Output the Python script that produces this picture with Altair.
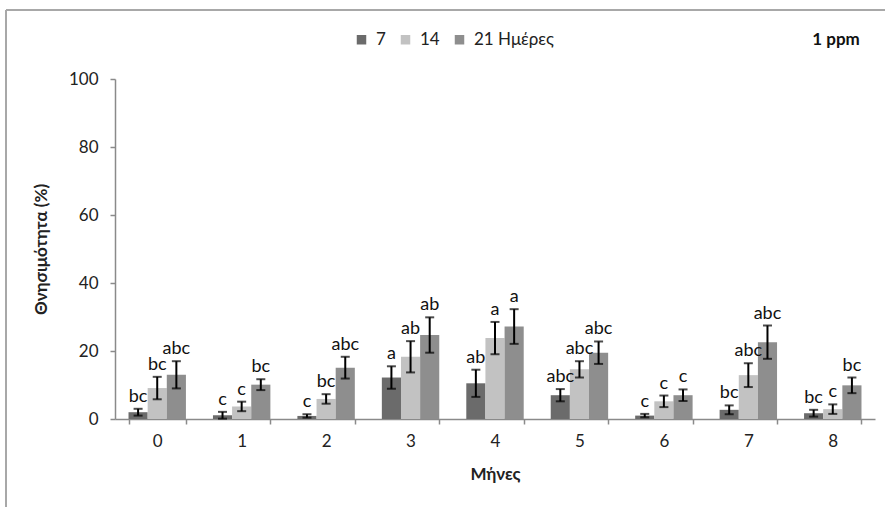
import altair as alt
import pandas as pd

months = ["0", "1", "2", "3", "4", "5", "6", "7", "8"]
series = ["7", "14", "21 Ημέρες"]

vals_7 = [2.0, 1.1, 0.9, 12.2, 10.5, 7.0, 1.0, 2.7, 1.7]
err_7 = [1.0, 1.0, 0.5, 3.3, 4.0, 1.8, 0.5, 1.3, 1.0]
vals_14 = [9.1, 3.7, 5.9, 18.3, 23.8, 14.6, 5.2, 12.9, 2.9]
err_14 = [3.3, 1.4, 1.4, 4.6, 4.75, 2.4, 1.7, 3.5, 1.4]
vals_21 = [13.0, 10.1, 15.1, 24.7, 27.2, 19.5, 7.0, 22.6, 9.9]
err_21 = [4.0, 1.6, 3.2, 5.2, 5.1, 3.3, 1.7, 4.9, 2.3]

let_7 = ["bc", "c", "c", "a", "ab", "abc", "c", "bc", "bc"]
let_14 = ["bc", "c", "bc", "ab", "a", "abc", "c", "abc", "c"]
let_21 = ["abc", "bc", "abc", "ab", "a", "abc", "c", "abc", "bc"]

colors = ["#6b6b6b", "#c2c2c2", "#8e8e8e"]

rows = []
for s, vals, errs, lets in [(series[0], vals_7, err_7, let_7),
                            (series[1], vals_14, err_14, let_14),
                            (series[2], vals_21, err_21, let_21)]:
    for m, v, e, l in zip(months, vals, errs, lets):
        rows.append({"month": m, "series": s, "value": v,
                     "lo": v - e, "hi": v + e, "letter": l})
df = pd.DataFrame(rows)

FONT = "Lato"

x_enc = alt.X("month:N", sort=months,
              scale=alt.Scale(paddingInner=0.32, paddingOuter=0.16),
              axis=alt.Axis(title="Μήνες", labelAngle=0, tickBand="extent",
                            domainColor="#8a8a8a", tickColor="#8a8a8a",
                            domainWidth=1.5, tickWidth=1.5, tickSize=5,
                            labelFontSize=17, labelFont=FONT, labelColor="#222222",
                            labelPadding=9,
                            titleFont=FONT, titleFontSize=17, titleFontWeight="bold",
                            titleColor="#222222", titleY=55, titleBaseline="middle"))
xo_enc = alt.XOffset("series:N", sort=series, scale=alt.Scale(domain=series, paddingInner=0))

base = alt.Chart(df)

bars = base.mark_bar().encode(
    x=x_enc,
    xOffset=xo_enc,
    y=alt.Y("value:Q", scale=alt.Scale(domain=[0, 100]),
            axis=alt.Axis(title="Θνησιμότητα (%)", values=[0, 20, 40, 60, 80, 100],
                          grid=False, domainColor="#8a8a8a", tickColor="#8a8a8a",
                          domainWidth=1.5, tickWidth=1.5, tickSize=5,
                          labelFontSize=17, labelFont=FONT, labelColor="#222222",
                          labelPadding=12,
                          titleFont=FONT, titleFontSize=17, titleFontWeight="bold",
                          titleColor="#222222", titleX=-74, titleY=170,
                          titleAngle=-90, titleAlign="center", titleBaseline="middle")),
    color=alt.Color("series:N", sort=series,
                    scale=alt.Scale(domain=series, range=colors),
                    legend=alt.Legend(title=None, orient="none", direction="horizontal",
                                      legendX=238, legendY=-48,
                                      symbolType="square", symbolSize=90,
                                      symbolStrokeWidth=0, symbolOpacity=1,
                                      labelFont=FONT, labelFontSize=17,
                                      labelColor="#222222", labelOffset=6,
                                      columnPadding=11)),
)

rules = base.mark_rule(color="black", strokeWidth=2).encode(
    x=alt.X("month:N", sort=months), xOffset=xo_enc,
    y="lo:Q", y2="hi:Q")

cap_hi = base.mark_tick(color="black", thickness=2, size=9, orient="horizontal").encode(
    x=alt.X("month:N", sort=months), xOffset=xo_enc, y="hi:Q")
cap_lo = base.mark_tick(color="black", thickness=2, size=9, orient="horizontal").encode(
    x=alt.X("month:N", sort=months), xOffset=xo_enc, y="lo:Q")

letters = base.mark_text(font=FONT, fontSize=18, color="#111111",
                         baseline="alphabetic", dy=-7).encode(
    x=alt.X("month:N", sort=months), xOffset=xo_enc, y="hi:Q", text="letter:N")

deco = pd.DataFrame({"k": [0]})
top_line = alt.Chart(deco).mark_rule(color="#a8a8a8", strokeWidth=2).encode(
    x=alt.value(-109), x2=alt.value(775), y=alt.value(-69))
left_line = alt.Chart(deco).mark_rule(color="#a8a8a8", strokeWidth=2).encode(
    x=alt.value(-109), y=alt.value(-69), y2=alt.value(430))
ppm = alt.Chart(deco).mark_text(text="1 ppm", font=FONT, fontSize=17, fontWeight="bold",
                                color="#111111", align="center", baseline="middle").encode(
    x=alt.value(721), y=alt.value(-39))

chart = alt.layer(bars, rules, cap_hi, cap_lo, letters, top_line, left_line, ppm).properties(
    width=760, height=340,
    autosize=alt.AutoSizeParams(type="none"),
    padding={"left": 115, "top": 79, "right": 10, "bottom": 88},
    background="white",
).configure_view(stroke=None)

chart.save("out.html", embed_options={"renderer": "svg", "actions": False})
